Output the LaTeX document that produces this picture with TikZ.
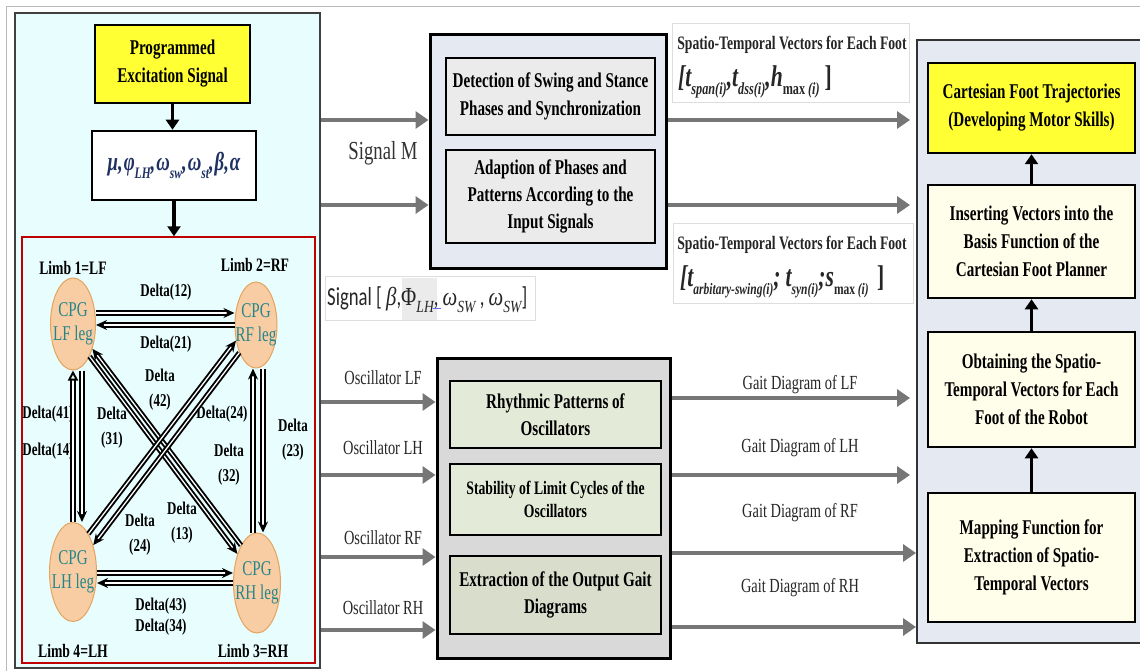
\documentclass[tikz,border=0pt]{standalone}
\usepackage{fontspec}
\setmainfont{Liberation Serif}[FakeStretch=0.72]
\newfontfamily\sansf{Carlito}[FakeStretch=0.72]
\newfontfamily\grk{Liberation Serif}[FakeStretch=0.8]
\usetikzlibrary{arrows.meta,shapes.geometric}
\definecolor{lpfill}{HTML}{E8FDFD}
\definecolor{ylw}{HTML}{FFFF33}
\definecolor{cpgfill}{HTML}{F9CDA4}
\definecolor{cpgdraw}{HTML}{E3A45E}
\definecolor{cpgtext}{HTML}{25868A}
\definecolor{navy}{HTML}{1F3163}
\definecolor{midfill}{HTML}{E5EAF2}
\definecolor{innfill}{HTML}{EBEBEB}
\definecolor{oscfill}{HTML}{D9D9D9}
\definecolor{grnfill}{HTML}{E3EAD7}
\definecolor{grntwo}{HTML}{D9DDCC}
\definecolor{cream}{HTML}{FFFEEA}
\definecolor{garr}{HTML}{767676}
\definecolor{redb}{HTML}{C00000}
\definecolor{lblgray}{HTML}{DDDDDD}
\newcommand\lowsub[2][15]{\raisebox{-0.28em}{\fontsize{#1}{#1}\selectfont #2}}
\begin{document}
\begin{tikzpicture}[x=1pt,y=-1pt,
  rbox/.style={draw=black, line width=2.5pt, align=center, inner sep=0pt, font=\fontsize{21}{28}\selectfont\bfseries},
  panel/.style={draw=#1, line width=2pt, inner sep=0pt},
  cpg/.style={ellipse, draw=cpgdraw, line width=1pt, fill=cpgfill, inner sep=0pt},
  cpgtxt/.style={align=center, text=cpgtext, font=\fontsize{21}{24}\selectfont, inner sep=0pt},
  lbl/.style={align=center, font=\fontsize{19}{25}\selectfont\bfseries, inner sep=0pt},
  dlt/.style={align=center, font=\fontsize{18}{25}\selectfont\bfseries, inner sep=0pt},
  plaintxt/.style={font=\fontsize{20}{24}\selectfont, inner sep=0pt, text=black!85},
  garrow/.style={draw=garr, line width=4pt, -{Triangle[length=13pt,width=17pt]}},
  barrow/.style={draw=black, line width=3.5pt, -{Triangle[length=10pt,width=13pt]}},
  darrow/.style={draw=black, line width=1.9pt, double=white, double distance=1.3pt, -{Stealth[length=11pt,width=10pt]}},
  oarrow/.style={draw=black, line width=1.9pt, double=white, double distance=1.3pt, -{Triangle[open,length=10pt,width=10pt]}},
  stlbl/.style={font=\fontsize{19}{19}\selectfont\bfseries, text=black!85, inner sep=0pt},
  formula/.style={anchor=west, inner sep=0pt, font=\fontsize{30}{30}\selectfont\bfseries\itshape, text=black!85},
]
\fill[white] (0,0) rectangle (1140,671);
\useasboundingbox (0,0) rectangle (1140,671);
\draw[draw=gray!55, line width=1pt] (6,671) -- (6,7) -- (1140,7);

% y levels
\coordinate (ya) at (0,120);
\coordinate (yb) at (0,205);
\coordinate (o1) at (0,402);
\coordinate (o2) at (0,475);
\coordinate (o3) at (0,557);
\coordinate (o4) at (0,630);
\coordinate (g1) at (0,398);
\coordinate (g2) at (0,475);
\coordinate (g3) at (0,553);
\coordinate (g4) at (0,627);

% ---------- left panel ----------
\node[panel=black!75, fill=lpfill, minimum width=305pt, minimum height=655pt] (lp) at (167.5,340.5) {};
\node[rbox, fill=ylw, minimum width=155pt, minimum height=78pt] (exc) at (172.5,64) {Programmed\\Excitation Signal};
\node[rbox, fill=white, minimum width=164pt, minimum height=69pt, text=navy, font=\fontsize{26}{26}\selectfont\bfseries\itshape] (par) at (174,165.5) {μ,\hspace{1pt}φ\lowsub[16]{LH},\hspace{1pt}ω\lowsub[16]{sw},\hspace{1pt}ω\lowsub[16]{st},\hspace{1pt}β,\hspace{1pt}α};
\node[draw=redb, line width=1.5pt, minimum width=293pt, minimum height=426pt, inner sep=0pt] (cpgbox) at (168.5,450) {};
\draw[barrow] (exc.south) -- (exc.south |- par.north);
\draw[barrow] (par.south) -- (par.south |- cpgbox.north);

\node[cpg, minimum width=45pt, minimum height=92pt, label={[cpgtxt]center:CPG\\LF leg}] (lf) at (73,324) {};
\node[cpg, minimum width=42pt, minimum height=86pt, label={[cpgtxt]center:CPG\\RF leg}] (rf) at (256,325) {};
\node[cpg, minimum width=47pt, minimum height=99pt, label={[cpgtxt]center:CPG\\LH leg}] (lh) at (73,572) {};
\node[cpg, minimum width=47pt, minimum height=100pt, label={[cpgtxt]center:CPG\\RH leg}] (rh) at (257,583) {};

\node[lbl] (l1) at (73,268) {Limb 1=LF};
\node[lbl] (l2) at (255,265) {Limb 2=RF};
\node[lbl] (l4) at (73,651) {Limb 4=LH};
\node[lbl] (l3) at (253,651) {Limb 3=RH};
\node[dlt] (d12) at (166,292) {Delta(12)};
\node[dlt] (d21) at (166,344) {Delta(21)};
\node[dlt] (d42) at (160,390) {Delta\\(42)};
\node[dlt] (d41) at (48,414) {Delta(41)};
\node[dlt] (d14) at (48,451) {Delta(14)};
\node[dlt] (d31) at (112,428) {Delta\\(31)};
\node[dlt] (d24a) at (222,414) {Delta(24)};
\node[dlt] (d23) at (293,440) {Delta\\(23)};
\node[dlt] (d32) at (229,465) {Delta\\(32)};
\node[dlt] (d24b) at (140,535) {Delta\\(24)};
\node[dlt] (d13) at (182,523) {Delta\\(13)};
\node[dlt, font=\fontsize{18}{21}\selectfont\bfseries] (d43) at (161,617) {Delta(43)\\Delta(34)};

\draw[darrow] ([yshift=11pt]lf.east) -- ([yshift=12pt]rf.west);
\draw[darrow] (rf.west) -- ([yshift=-1pt]lf.east);
\draw[darrow] ([yshift=-1pt]lh.east) -- ([yshift=10pt]rh.west);
\draw[darrow] (rh.west) -- ([yshift=-11pt]lh.east);
\draw[oarrow] (lh.north) -- (lf.south);
\draw[darrow] ([xshift=9pt]lf.south) -- ([xshift=9pt]lh.north);
\draw[darrow] ([xshift=-4pt]rh.north) -- ([xshift=-3pt]rf.south);
\draw[darrow] ([xshift=7pt]rf.south) -- ([xshift=6pt]rh.north);
\draw[darrow] (lf.-63) -- (rh.124);
\draw[darrow] (rh.113) -- (lf.-52);
\draw[darrow] (lh.68) -- (rf.218);
\draw[darrow] (rf.239) -- (lh.53);

% ---------- middle top ----------
\node[rbox, fill=midfill, line width=3pt, minimum width=236pt, minimum height=233pt] (sig) at (548,151.5) {};
\node[rbox, fill=innfill, minimum width=209pt, minimum height=77pt] (det) at (550.5,96.5) {Detection of Swing and Stance\\Phases and Synchronization};
\node[rbox, fill=innfill, minimum width=209pt, minimum height=93pt, font=\fontsize{21}{27}\selectfont\bfseries] (adp) at (550.5,196.5) {Adaption of Phases and\\Patterns According to the\\Input Signals};
\node[inner sep=0pt, font=\fontsize{26}{26}\selectfont, text=black!80] (sm) at (383,153) {Signal M};

\node[draw=lblgray, line width=0.8pt, minimum width=237pt, minimum height=79pt, inner sep=0pt] (st1) at (790.5,62.5) {};
\node[stlbl] (st1a) at (792,45) {Spatio-Temporal Vectors for Each Foot};
\node[formula] (st1b) at (678,82) {[t\lowsub[17]{span(i)},t\lowsub[17]{dss(i)},h\lowsub[17]{\upshape max\,\itshape(i)}\,\upshape]};
\node[draw=lblgray, line width=0.8pt, minimum width=240pt, minimum height=80pt, inner sep=0pt] (st2) at (793,263) {};
\node[stlbl] (st2a) at (792,245) {Spatio-Temporal Vectors for Each Foot};
\node[formula] (st2b) at (680,282) {[t\lowsub[16]{arbitary-swing(i)};\,t\lowsub[16]{syn(i)};s\lowsub[16]{\upshape max\,\itshape(i)}\;\upshape]};

\fill[black!8] (402,278) rectangle (437,320);
\draw[blue!60, line width=1pt] (433,308) -- (441,308);
\node[draw=lblgray, line width=0.8pt, minimum width=210pt, minimum height=44pt, inner sep=0pt] (sgb) at (430,298) {};
\node[anchor=west, inner sep=0pt, font=\sansf\fontsize{26}{26}\selectfont, text=black!85] (sgt) at (327,300) {Signal [ {\grk\itshape β},{\grk Φ}\lowsub[17]{\grk\itshape LH}, {\grk\itshape ω}\lowsub[17]{\grk\itshape SW} , {\grk\itshape ω}\lowsub[17]{\grk\itshape SW}]};

% ---------- middle bottom ----------
\node[rbox, fill=oscfill, line width=3pt, minimum width=233pt, minimum height=300pt] (osc) at (553.5,508) {};
\node[rbox, fill=grnfill, minimum width=211pt, minimum height=67pt, font=\fontsize{21}{27}\selectfont\bfseries] (rhy) at (555.5,414.5) {Rhythmic Patterns of\\Oscillators};
\node[rbox, fill=grnfill, minimum width=211pt, minimum height=71pt, font=\fontsize{19}{23}\selectfont\bfseries] (stab) at (555.5,499.5) {Stability of Limit Cycles of the\\Oscillators};
\node[rbox, fill=grntwo, minimum width=211pt, minimum height=78pt, font=\fontsize{21}{27}\selectfont\bfseries] (ext) at (555.5,595) {Extraction of the Output Gait\\Diagrams};

\node[plaintxt] (ol1) at (383,378) {Oscillator LF};
\node[plaintxt] (ol2) at (383,448) {Oscillator LH};
\node[plaintxt] (ol3) at (383,538) {Oscillator RF};
\node[plaintxt] (ol4) at (383,608) {Oscillator RH};
\node[plaintxt] (gl1) at (800,385) {Gait Diagram of LF};
\node[plaintxt] (gl2) at (800,448) {Gait Diagram of LH};
\node[plaintxt] (gl3) at (800,513) {Gait Diagram of RF};
\node[plaintxt] (gl4) at (800,588) {Gait Diagram of RH};

% ---------- right panel ----------
\node[panel=black!80, fill=midfill, minimum width=228pt, minimum height=603pt] (rp) at (1031,341.5) {};
\node[rbox, fill=ylw, minimum width=207pt, minimum height=90pt] (cft) at (1031.5,108) {Cartesian Foot Trajectories\\(Developing Motor Skills)};
\node[rbox, fill=cream, minimum width=207pt, minimum height=113pt] (ins) at (1031.5,241.5) {Inserting Vectors into the\\Basis Function of the\\Cartesian Foot Planner};
\node[rbox, fill=cream, minimum width=207pt, minimum height=115pt] (obt) at (1031.5,389.5) {Obtaining the Spatio-\\Temporal Vectors for Each\\Foot of the Robot};
\node[rbox, fill=cream, minimum width=207pt, minimum height=129pt] (map) at (1031.5,557.5) {Mapping Function for\\Extraction of Spatio-\\Temporal Vectors};
\draw[barrow] (map.north) -- (obt.south);
\draw[barrow] (obt.north) -- (ins.south);
\draw[barrow] (ins.north) -- (cft.south);

% ---------- gray arrows ----------
\draw[garrow] (lp.east |- ya) -- (sig.west |- ya);
\draw[garrow] (lp.east |- yb) -- (sig.west |- yb);
\draw[garrow, shorten >=6pt] (sig.east |- ya) -- (rp.west |- ya);
\draw[garrow, shorten >=6pt] (sig.east |- yb) -- (rp.west |- yb);
\draw[garrow] (lp.east |- o1) -- (osc.west |- o1);
\draw[garrow] (lp.east |- o2) -- (osc.west |- o2);
\draw[garrow] (lp.east |- o3) -- (osc.west |- o3);
\draw[garrow] (lp.east |- o4) -- (osc.west |- o4);
\draw[garrow, shorten >=6pt] (osc.east |- g1) -- (rp.west |- g1);
\draw[garrow, shorten >=6pt] (osc.east |- g2) -- (rp.west |- g2);
\draw[garrow] (osc.east |- g3) -- (rp.west |- g3);
\draw[garrow] (osc.east |- g4) -- (rp.west |- g4);
\end{tikzpicture}
\end{document}
